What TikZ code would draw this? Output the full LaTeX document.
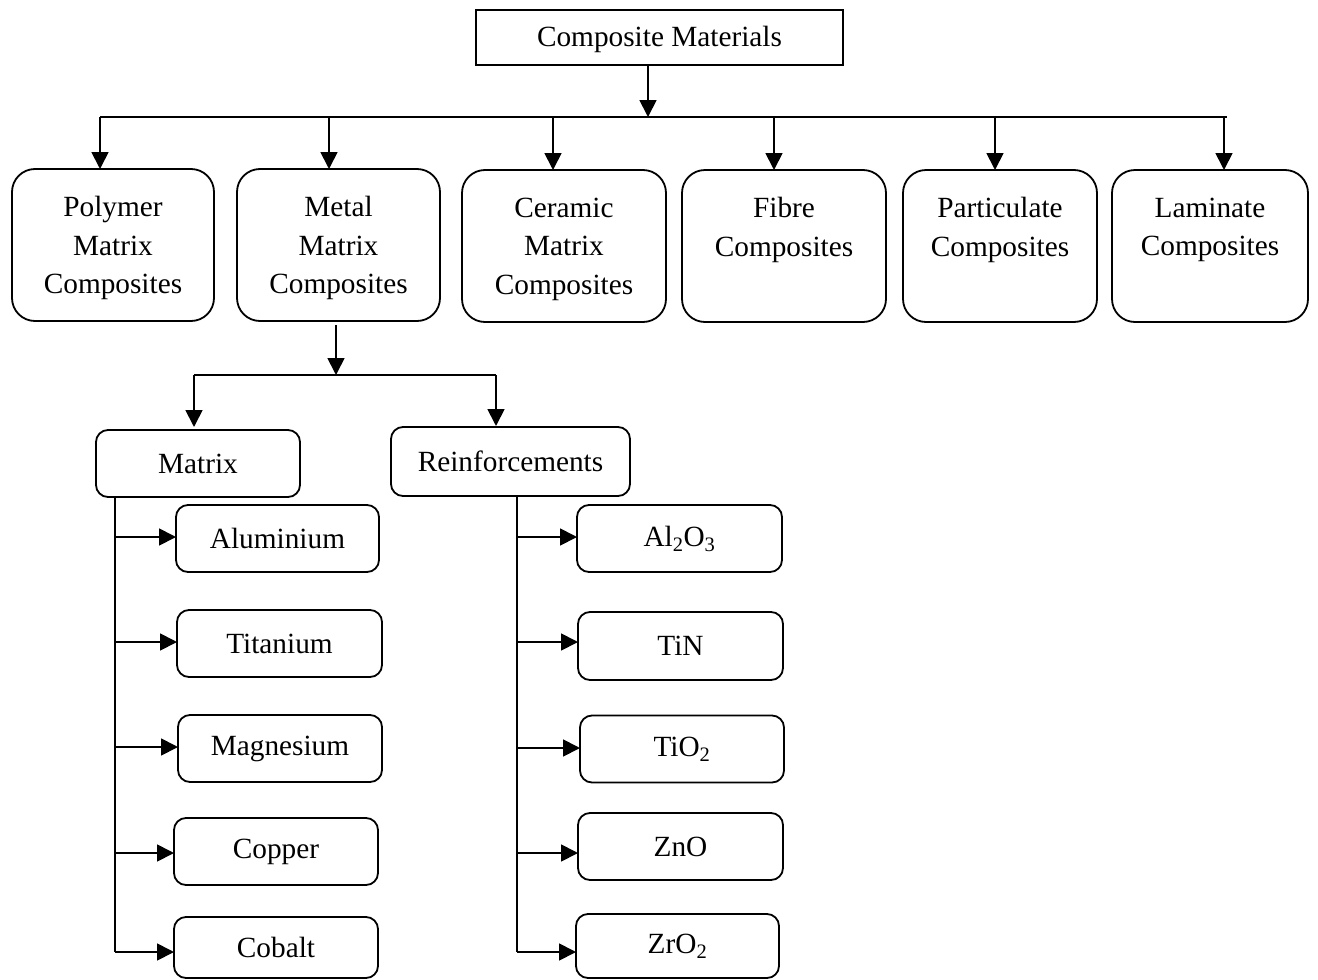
\documentclass[tikz,border=0pt]{standalone}
\usepackage{fontspec}
\setmainfont{Liberation Serif}
\usetikzlibrary{arrows.meta}

\begin{document}
\begin{tikzpicture}[x=1pt,y=-1pt,
  line width=1.8pt,
  every node/.style={font=\fontsize{29.3}{38.5}\selectfont, inner sep=0pt, outer sep=0pt, line width=1.8pt},
  headbox/.style={draw, minimum width=367pt, minimum height=55pt},
  catbox/.style={draw, rounded corners=23pt, minimum height=152pt},
  cattext/.style={align=center},
  grpbox/.style={draw, rounded corners=12pt},
  leafbox/.style={draw, rounded corners=12pt, minimum width=204pt, minimum height=67pt},
  arr/.style={-{Triangle[length=17pt,width=17pt]}}]

\useasboundingbox (0,0) rectangle (1318,980);

% root
\node[headbox] (root) at (659.5,37.5) {};
\node (rootT) at ([yshift=-2pt]root.center) {Composite Materials};

% main categories
\node[catbox, minimum width=202pt] (pmc)  at (113,245)   {};
\node[catbox, minimum width=203pt] (mmc)  at (338.5,245) {};
\node[catbox, minimum width=204pt] (cmc)  at (564,246)   {};
\node[catbox, minimum width=204pt] (fib)  at (784,246)   {};
\node[catbox, minimum width=194pt] (part) at (1000,246)  {};
\node[catbox, minimum width=196pt] (lam)  at (1210,246)  {};
\node[cattext] (pmcT)  at ([yshift=-3pt]pmc.center)  {Polymer\\Matrix\\Composites};
\node[cattext] (mmcT)  at ([yshift=-3pt]mmc.center)  {Metal\\Matrix\\Composites};
\node[cattext] (cmcT)  at ([yshift=-3pt]cmc.center)  {Ceramic\\Matrix\\Composites};
\node[cattext] (fibT)  at ([yshift=-6pt]fib.center)  {Fibre\\Composites\\\strut};
\node[cattext] (partT) at ([yshift=-6pt]part.center) {Particulate\\Composites\\\strut};
\node[cattext] (lamT)  at ([yshift=-6pt]lam.center)  {Laminate\\Composites\\\strut};

% distribution bus under the root
\coordinate (hub)  at (648,117);
\coordinate (busL) at (100,117);
\coordinate (busR) at (1227,117);
\draw[arr] (root.south -| hub) -- (hub);
\draw (busL) -- (busR);
\coordinate (tp) at (100,117);
\coordinate (tm) at (329,117);
\coordinate (tc) at (553,117);
\coordinate (tf) at (774,117);
\coordinate (tq) at (995,117);
\coordinate (tl) at (1224,117);
\draw[arr] (tp) -- (tp |- pmc.north);
\draw[arr] (tm) -- (tm |- mmc.north);
\draw[arr] (tc) -- (tc |- cmc.north);
\draw[arr] (tf) -- (tf |- fib.north);
\draw[arr] (tq) -- (tq |- part.north);
\draw[arr] (tl) -- (tl |- lam.north);

% metal matrix composites split
\node[grpbox, minimum width=204pt, minimum height=67pt] (mat) at (198,463.5) {Matrix};
\node[grpbox, minimum width=239pt, minimum height=69pt] (rein) at (510.5,461.5) {Reinforcements};
\coordinate (mhub) at (336,375);
\coordinate (mtop) at (336,325);
\coordinate (mL) at (194,375);
\coordinate (mR) at (496,375);
\draw[arr] (mtop) -- (mhub);
\draw (mL) -- (mR);
\draw[arr] (mL) -- ([yshift=3pt]mL |- mat.north);
\draw[arr] (mR) -- ([yshift=1pt]mR |- rein.north);

% matrix metals
\node[leafbox, minimum width=203pt] (al) at (277.5,538.5) {Aluminium};
\node[leafbox, minimum width=205pt] (ti) at (279.5,643.5) {Titanium};
\node[leafbox] (mg) at (280,748.5) {Magnesium};
\node[leafbox] (cu) at (276,851.5) {Copper};
\node[leafbox, minimum height=61pt] (co) at (276,947.5) {Cobalt};

\coordinate (ma) at (115,537);
\coordinate (mb) at (115,642);
\coordinate (mc) at (115,747);
\coordinate (md) at (115,853);
\coordinate (me) at (115,952);
\draw (mat.south -| ma) -- (me);
\draw[arr] (ma) -- (al.west |- ma);
\draw[arr] (mb) -- (ti.west |- mb);
\draw[arr] (mc) -- (mg.west |- mc);
\draw[arr] (md) -- (cu.west |- md);
\draw[arr] (me) -- (co.west |- me);

% reinforcement phases
\node[leafbox, minimum width=205pt] (alo) at (679.5,538.5) {Al\textsubscript{2}O\textsubscript{3}};
\node[leafbox, minimum width=205pt, minimum height=68pt] (tin) at (680.5,646) {TiN};
\node[leafbox] (tio) at (682,749) {TiO\textsubscript{2}};
\node[leafbox, minimum width=205pt] (zno) at (680.5,846.5) {ZnO};
\node[leafbox, minimum width=203pt, minimum height=64pt] (zro) at (677.5,946) {\raisebox{-2pt}{ZrO\textsubscript{2}}};

\coordinate (ra) at (517,537);
\coordinate (rb) at (517,642);
\coordinate (rc) at (517,748);
\coordinate (rd) at (517,853);
\coordinate (re) at (517,952);
\draw (rein.south -| ra) -- (re);
\draw[arr] (ra) -- (alo.west |- ra);
\draw[arr] (rb) -- (tin.west |- rb);
\draw[arr] (rc) -- (tio.west |- rc);
\draw[arr] (rd) -- (zno.west |- rd);
\draw[arr] (re) -- (zro.west |- re);
\end{tikzpicture}
\end{document}
